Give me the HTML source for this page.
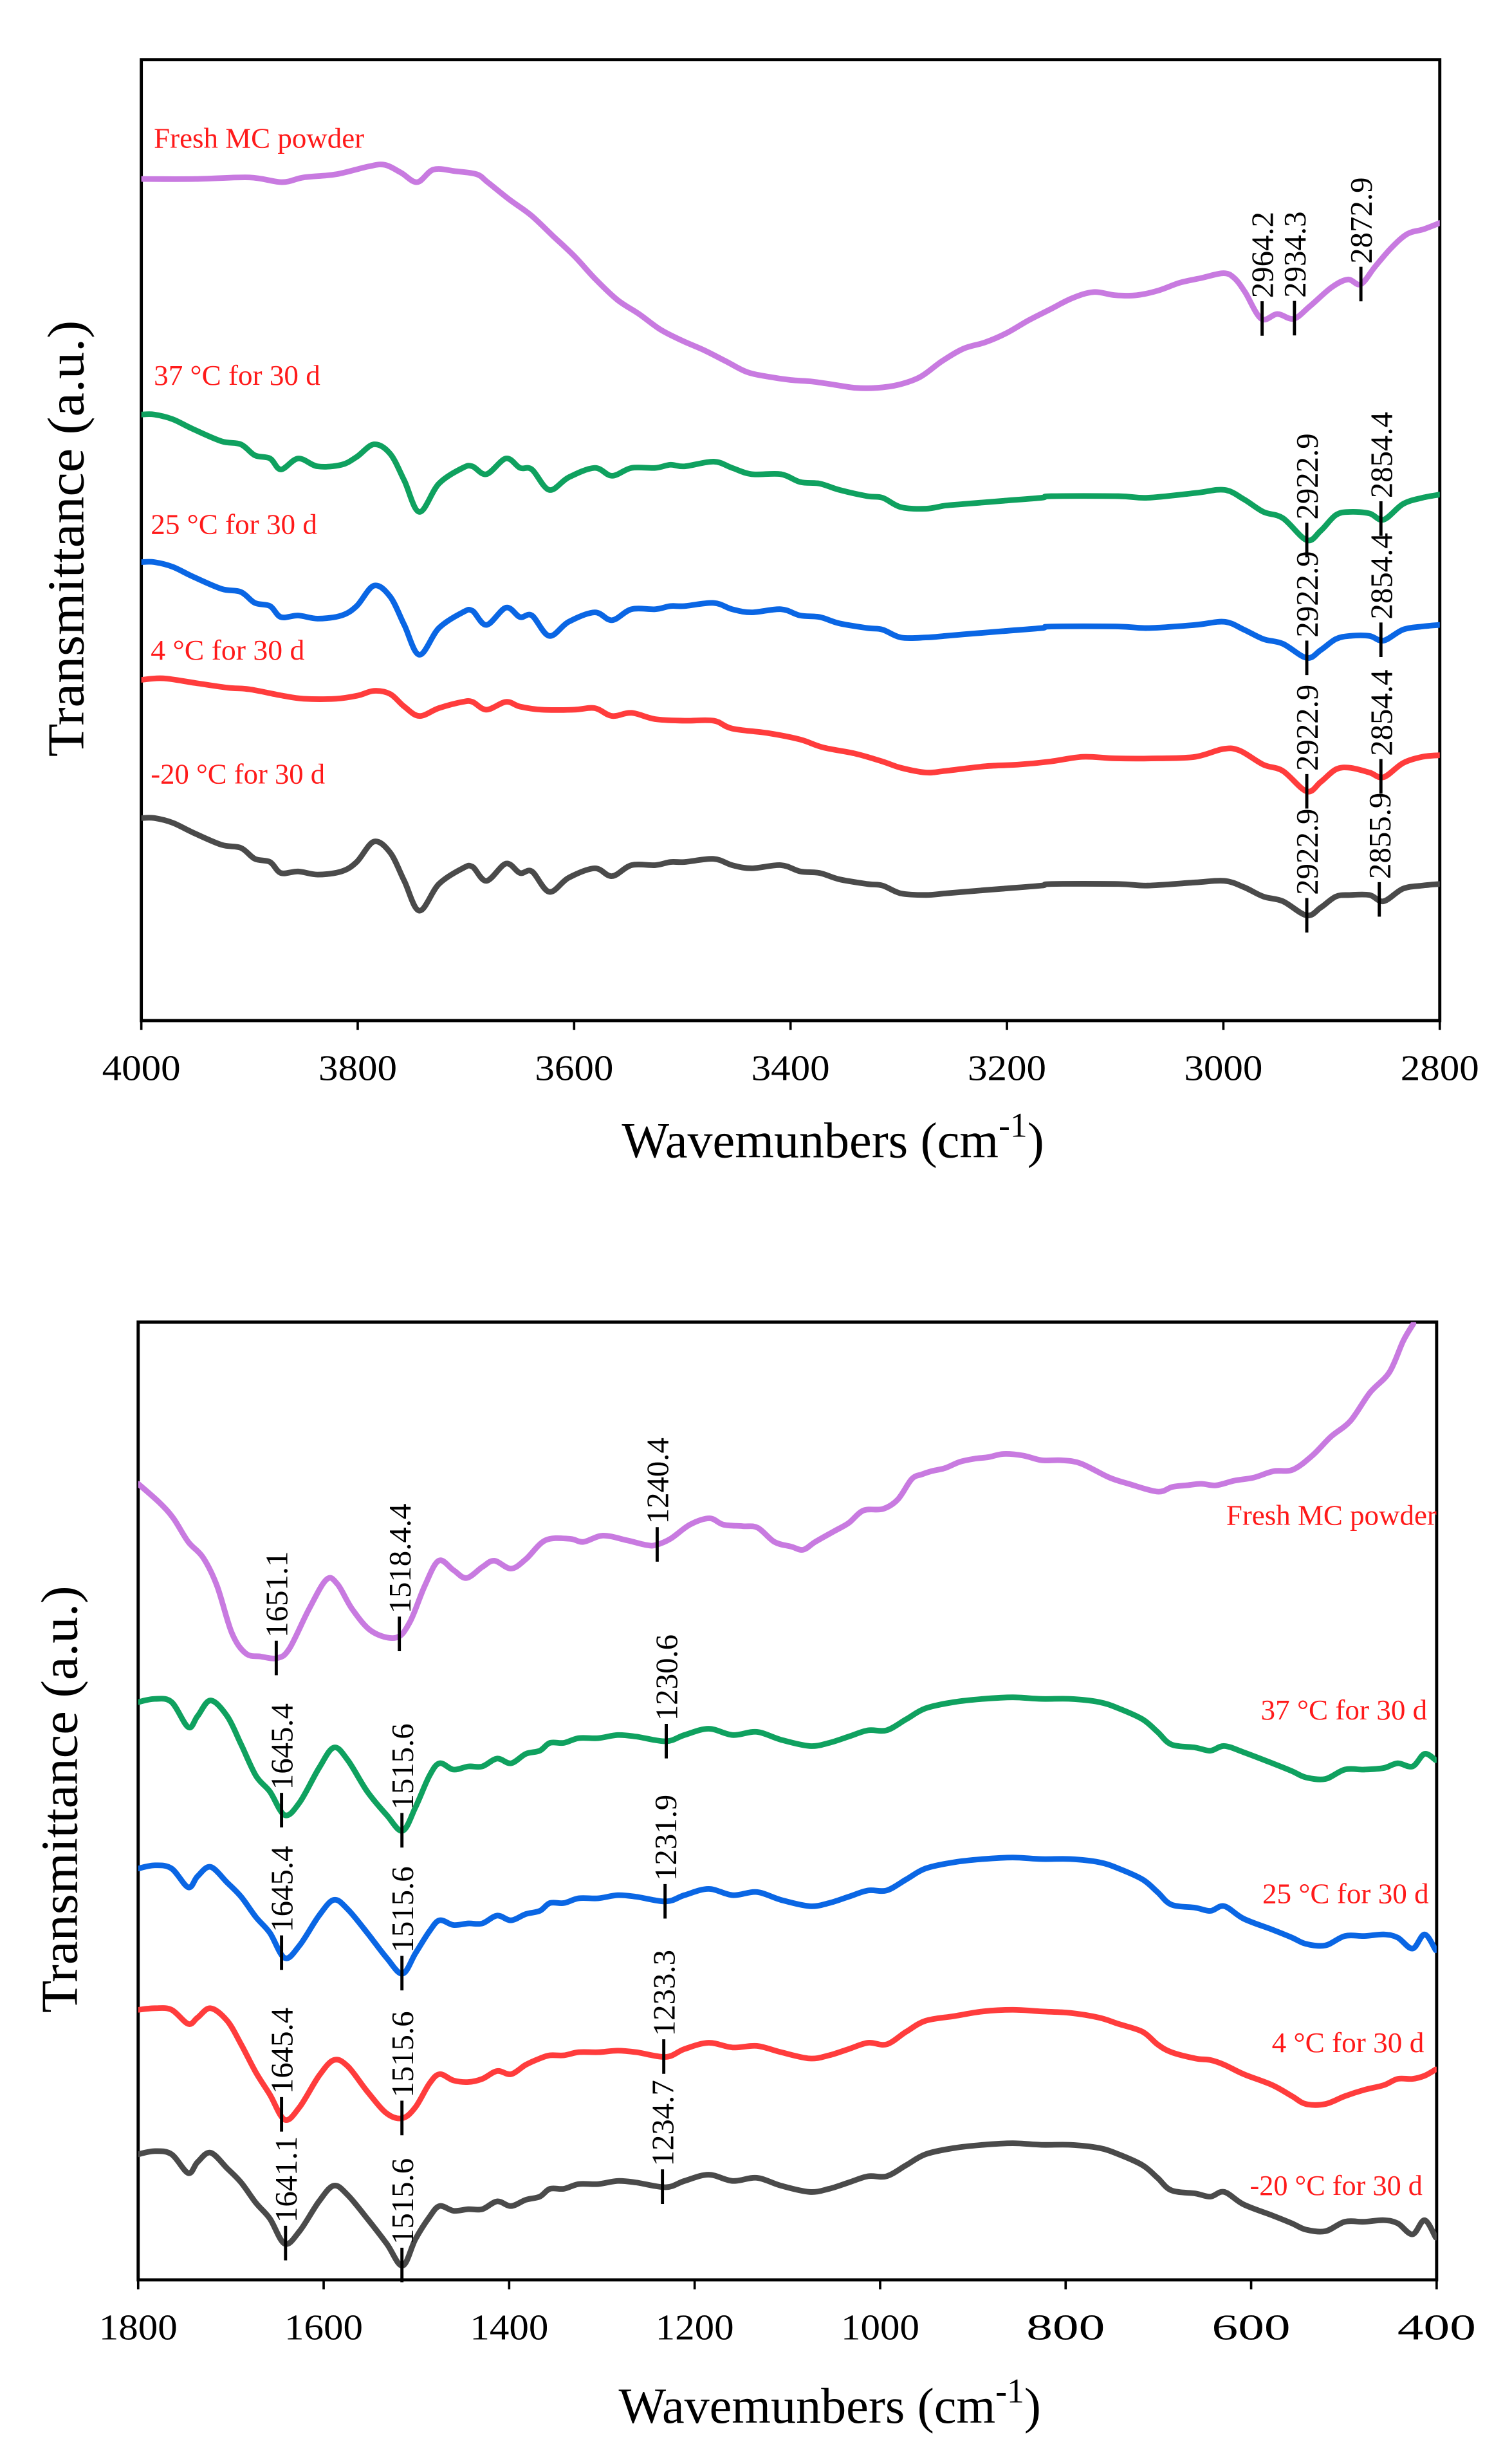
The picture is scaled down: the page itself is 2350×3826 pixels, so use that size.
<!DOCTYPE html>
<html><head><meta charset="utf-8"><style>
html,body{margin:0;padding:0;background:#fff;}
svg{display:block;}
text{font-family:"Liberation Serif",serif;}
</style></head><body>
<svg id="chart" width="2350" height="3826" viewBox="0 0 963 1568" preserveAspectRatio="none" xmlns="http://www.w3.org/2000/svg" font-family="Liberation Serif, serif">
<defs>
<clipPath id="clipTop"><rect x="90" y="38" width="827" height="612"/></clipPath>
<clipPath id="clipBot"><rect x="88" y="842" width="827" height="610"/></clipPath>
</defs>
<g id="topPlot"></g>
<g id="botPlot"></g>
</svg>
<script>
// ---------- TOP PANEL DATA ----------
const topTicks = [4000, 3800, 3600, 3400, 3200, 3000, 2800];
const topW_purple = [4000,3950,3900,3870,3850,3820,3790,3775,3760,3745,3730,3710,3690,3680,3660,3640,3620,3600,3580,3560,3540,3520,3500,3480,3460,3440,3420,3400,3380,3360,3340,3320,3300,3280,3260,3240,3220,3200,3180,3160,3140,3120,3100,3080,3060,3040,3020,3000,2990,2980,2965,2950,2935,2920,2900,2885,2873,2860,2845,2830,2815,2800];
const topV_purple = [536,536,537,534,537,539,544,545,540,534,542,541,539,534,523,513,500,487,472,459,450,440,433,427,420,413,410,408,407,405,403,403,405,410,420,428,432,438,446,453,460,464,462,462,465,470,473,476,473,464,447,450,447,455,467,472,469,480,492,501,504,508];
const topW_shared = [4000,3988,3971,3953,3926,3908,3895,3881,3871,3855,3837,3815,3801,3785,3770,3757,3743,3725,3703,3694,3681,3663,3650,3639,3623,3605,3581,3565,3547,3525,3511,3498,3471,3454,3436,3409,3391,3373,3355,3329,3315,3298,3275,3257,3240,3204,3168,3159,3097,3070,3026,2999,2981,2963,2945,2923,2910,2896,2883,2865,2852,2834,2816,2800];
const topV_green = [386,386,383,377,369,367,360,358,351,358,353,354,359,367,361,344,324,342,352,353,348,358,352,351,338,346,352,347,352,352,354,353,356,352,348,348,343,342,338,334,333,327,326,328,329,331,333,334,334,333,336,338,332,324,320,306,312,322,324,323,319,329,333,335];
const topV_blue = [292,292,289,283,275,273,266,264,257,258,256,258,264,277,270,252,233,250,260,261,252,263,257,258,245,254,260,255,262,262,264,264,266,262,260,262,258,257,253,250,249,244,244,245,246,248,250,251,251,250,252,254,249,243,240,231,236,243,245,245,242,249,251,252];
const topV_black = [129,129,126,120,112,110,103,101,94,95,93,95,101,114,107,89,70,87,97,98,89,100,94,95,82,91,97,92,99,99,101,101,103,99,97,99,95,94,90,87,86,81,80,81,82,84,86,87,87,86,88,89,85,79,76,67,72,79,80,80,76,84,86,87];
const topW_red = [4000,3980,3950,3920,3900,3870,3850,3820,3800,3785,3770,3757,3743,3725,3703,3694,3681,3663,3650,3630,3600,3581,3565,3547,3525,3498,3471,3454,3420,3391,3370,3340,3315,3298,3275,3257,3220,3190,3160,3130,3100,3060,3026,3000,2985,2963,2945,2923,2910,2896,2883,2865,2852,2834,2816,2800];
const topV_red = [217,218,215,212,211,207,205,205,207,210,208,200,194,199,203,203,198,203,200,198,198,199,194,196,192,191,191,186,183,179,174,170,165,161,158,159,162,163,165,168,167,167,168,173,172,163,159,146,152,160,161,158,155,164,168,169];
const topLabels = ["Fresh MC powder","37 °C for 30 d","25 °C for 30 d","4 °C for 30 d","-20 °C for 30 d"];
const topMarks_purple = [2964.2, 2934.3, 2872.9];
const topMarks_green = [2922.9, 2854.4];
const topMarks_blue = [2922.9, 2854.4];
const topMarks_red = [2922.9, 2854.4];
const topMarks_black = [2922.9, 2855.9];

// ---------- BOTTOM PANEL DATA ----------
const botTicks = [1800, 1600, 1400, 1200, 1000, 800, 600, 400];
const botW_purple = [1800,1777,1762,1746,1730,1715,1699,1684,1668,1650,1637,1616,1597,1585,1569,1548,1522,1507,1491,1476,1460,1446,1429,1416,1398,1382,1361,1335,1320,1299,1273,1252,1242,1226,1205,1184,1169,1148,1132,1114,1096,1083,1070,1049,1034,1018,997,981,966,955,945,930,914,898,883,867,846,826,805,784,753,732,701,685,670,654,638,618,597,576,555,534,514,493,472,451,436,425];
const botV_purple = [507,495,485,470,460,442,412,399,397,396,402,427,446,443,427,413,409,419,442,458,452,447,454,458,453,459,471,472,470,474,471,468,468,472,481,485,481,480,479,470,467,465,470,477,482,490,491,497,510,513,515,517,521,523,524,526,525,522,522,520,511,507,502,505,506,507,506,509,511,515,516,525,537,547,565,578,598,609];
const botW_shared = [1800,1782,1764,1746,1736,1722,1704,1689,1673,1658,1642,1626,1605,1589,1574,1553,1532,1515,1501,1486,1475,1460,1444,1429,1413,1398,1382,1367,1356,1341,1325,1304,1283,1263,1231,1211,1185,1159,1133,1107,1076,1055,1034,1013,993,972,951,920,889,857,826,795,764,743,717,701,686,660,644,629,608,577,556,541,520,499,478,457,442,426,413,401];
const botV_green = [368,370,368,352,359,369,359,341,321,311,296,304,326,339,331,311,296,286,301,321,329,325,327,327,332,329,335,337,342,342,345,345,347,346,343,347,351,347,349,344,340,342,346,350,350,357,364,368,370,371,370,370,368,364,357,349,341,339,337,340,336,329,324,320,319,325,325,326,329,327,335,331];
const botV_blue = [262,264,262,250,257,263,253,244,231,221,205,213,232,242,236,221,205,195,208,222,229,226,227,227,232,229,233,235,240,240,243,243,245,244,241,245,249,245,247,242,238,240,244,248,248,255,262,266,268,269,268,268,266,262,255,247,239,237,235,238,230,223,218,214,213,219,219,220,218,211,220,210];
const botV_red = [172,173,172,163,167,173,165,150,132,118,102,110,130,140,136,120,106,103,110,125,131,127,126,128,133,131,137,141,143,143,145,145,146,145,142,147,151,148,149,145,141,143,147,151,150,158,165,168,171,172,171,170,167,163,158,150,145,141,140,137,131,124,117,112,112,117,121,124,128,128,130,134];
const botV_black = [80,82,80,68,75,81,71,62,49,39,23,31,50,60,54,39,23,9,26,40,47,44,45,45,50,47,51,53,58,58,61,61,63,62,59,63,67,63,65,60,56,58,62,66,66,73,80,84,86,87,86,86,84,80,73,65,57,55,53,56,48,41,36,32,31,37,37,38,36,29,38,27];
const botMarks_purple = [1651.1, 1518.4, 1240.4];
const botMarkText_purple = ["1651.1", "1518.4.4", "1240.4"];
const botMarks_green = [1645.4, 1515.6, 1230.6];
const botMarks_blue = [1645.4, 1515.6, 1231.9];
const botMarks_red = [1645.4, 1515.6, 1233.3];
const botMarks_black = [1641.1, 1515.6, 1234.7];

const NS = "http://www.w3.org/2000/svg";
const COLORS = {purple:"#c87ae0", green:"#0fa15f", blue:"#0a66e4", red:"#ff3c3c", black:"#4a4a4a"};
const FF = "Liberation Serif, serif";

function mk(tag, attrs, parent){const e=document.createElementNS(NS,tag);for(const k in attrs)e.setAttribute(k,attrs[k]);parent.appendChild(e);return e;}

function panel(cfg){
  const g = document.getElementById(cfg.id);
  const xs = w => cfg.x0 + (cfg.wmax - w)/(cfg.wmax - cfg.wmin)*(cfg.x1 - cfg.x0);
  const ys = v => cfg.y1 - v;
  const fr = mk("rect",{x:cfg.x0,y:cfg.y0,width:cfg.x1-cfg.x0,height:cfg.y1-cfg.y0,fill:"none",stroke:"#000","stroke-width":2},g);
  
  
  cfg.ticks.forEach(t=>{
    const x=xs(t);
    const tl=mk("line",{x1:x,x2:x,y1:cfg.y1,y2:cfg.y1+6,stroke:"#000","stroke-width":1.5},g);
    
    
    const tx=mk("text",{x:x,y:cfg.y1+38,"text-anchor":"middle","font-size":23,"font-family":FF,textLength:50,lengthAdjust:"spacingAndGlyphs"},g);
    tx.textContent=String(t);
    
    
  });
  const xt=mk("text",{x:(cfg.x0+cfg.x1)/2+27,y:cfg.y1+cfg.titleDy,"text-anchor":"middle","font-size":32,"font-family":FF},g);
  xt.innerHTML='Wavemunbers (cm<tspan dy="-13" font-size="22">-1</tspan><tspan dy="13">)</tspan>';
  
  
  const cy=(cfg.y0+cfg.y1)/2+cfg.ytOff;
  const yt=mk("text",{x:0,y:0,"text-anchor":"middle","font-size":33,"font-family":FF,textLength:cfg.ytLen,lengthAdjust:"spacingAndGlyphs",transform:`translate(${cfg.ytX},${cy}) rotate(-90)`},g);
  yt.textContent="Transmittance (a.u.)";
  
  
  const cg=mk("g",{"clip-path":`url(#${cfg.clip})`},g);
  cfg.series.forEach(s=>{
    const pts=s.w.map((w,i)=>[xs(w),ys(s.v[i])]);
    let d=`M${pts[0][0]},${pts[0][1]}`;
    for(let i=0;i<pts.length-1;i++){
      const p0=pts[Math.max(0,i-1)],p1=pts[i],p2=pts[i+1],p3=pts[Math.min(pts.length-1,i+2)];
      const c1=[p1[0]+(p2[0]-p0[0])/6,p1[1]+(p2[1]-p0[1])/6];
      const c2=[p2[0]-(p3[0]-p1[0])/6,p2[1]-(p3[1]-p1[1])/6];
      d+=` C${c1[0]},${c1[1]} ${c2[0]},${c2[1]} ${p2[0]},${p2[1]}`;
    }
    const path=mk("path",{d:d,fill:"none",stroke:COLORS[s.color],"stroke-width":3.6,"stroke-linejoin":"round","stroke-linecap":"round"},cg);
    
    
    s.marks.forEach((m,j)=>{
      let v=s.v[0];
      for(let i=0;i<s.w.length-1;i++){const a=s.w[i],b=s.w[i+1];if((m<=a&&m>=b)){const t=(a-m)/(a-b);v=s.v[i]+(s.v[i+1]-s.v[i])*t;break;}}
      const x=xs(m),y=ys(v);
      const ml=mk("line",{x1:x,x2:x,y1:y-11,y2:y+11,stroke:"#000","stroke-width":2},g);
      
      
      const lt=mk("text",{x:0,y:0,"font-size":20,"font-family":FF,transform:`translate(${x+7},${y-13}) rotate(-90)`},g);
      lt.textContent=s.markText?s.markText[j]:m.toFixed(1);
      
      
    });
  });
  cfg.labels.forEach(l=>{
    const t=mk("text",{x:l.x,y:l.y,"font-size":18,"font-family":FF,fill:"#ff1a1a",textLength:l.len,lengthAdjust:"spacingAndGlyphs"},g);
    t.textContent=l.text;
    
    
  });
}

panel({id:"topPlot",clip:"clipTop",x0:90,x1:917,y0:38,y1:650,wmax:4000,wmin:2800,ticks:topTicks,titleDy:87,ytX:53,ytOff:-1,ytLen:278,
  series:[
    {name:"fresh",color:"purple",w:topW_purple,v:topV_purple,marks:topMarks_purple},
    {name:"37c",color:"green",w:topW_shared,v:topV_green,marks:topMarks_green},
    {name:"25c",color:"blue",w:topW_shared,v:topV_blue,marks:topMarks_blue},
    {name:"4c",color:"red",w:topW_red,v:topV_red,marks:topMarks_red},
    {name:"minus20c",color:"black",w:topW_shared,v:topV_black,marks:topMarks_black}],
  labels:[
    {text:topLabels[0],x:98,y:94,len:134},{text:topLabels[1],x:98,y:245,len:106},
    {text:topLabels[2],x:96,y:340,len:106},{text:topLabels[3],x:96,y:420,len:98},
    {text:topLabels[4],x:96,y:499,len:111}]
});
panel({id:"botPlot",clip:"clipBot",x0:88,x1:915,y0:842,y1:1452,wmax:1800,wmin:400,ticks:botTicks,titleDy:91,ytX:49,ytOff:-1,ytLen:272,
  series:[
    {name:"fresh",color:"purple",w:botW_purple,v:botV_purple,marks:botMarks_purple,markText:botMarkText_purple},
    {name:"37c",color:"green",w:botW_shared,v:botV_green,marks:botMarks_green},
    {name:"25c",color:"blue",w:botW_shared,v:botV_blue,marks:botMarks_blue},
    {name:"4c",color:"red",w:botW_shared,v:botV_red,marks:botMarks_red},
    {name:"minus20c",color:"black",w:botW_shared,v:botV_black,marks:botMarks_black}],
  labels:[
    {text:topLabels[0],x:781,y:971,len:134},{text:topLabels[1],x:803,y:1095,len:106},
    {text:topLabels[2],x:804,y:1212,len:106},{text:topLabels[3],x:810,y:1307,len:97},
    {text:topLabels[4],x:796,y:1398,len:110}]
});
</script>
</body></html>
